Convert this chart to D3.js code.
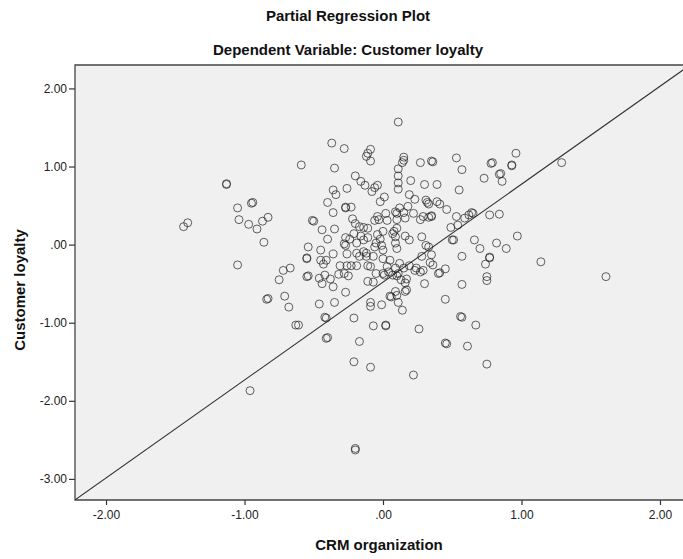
<!DOCTYPE html>
<html>
<head>
<meta charset="utf-8">
<style>
  body { margin: 0; background: #fff; }
  text { font-family: "Liberation Sans", Arial, sans-serif; }
</style>
</head>
<body>
<div id="container"></div>
<script src="https://cdn.jsdelivr.net/npm/d3@7"></script>
<script>

// partial residuals: [CRM organization, Customer loyalty]
var points = [
  [-1.44,0.23],[-1.41,0.28],[-1.13,0.78],[-1.13,0.77],[-1.05,-0.26],[-1.05,0.47],[-1.04,0.32],[-0.97,0.26],
  [-0.95,0.53],[-0.94,0.54],[-0.96,-1.87],[-0.91,0.20],[-0.87,0.30],[-0.83,0.35],[-0.86,0.03],[-0.84,-0.70],
  [-0.83,-0.69],[-0.75,-0.45],[-0.72,-0.33],[-0.67,-0.30],[-0.71,-0.66],[-0.68,-0.80],[-0.63,-1.03],[-0.61,-1.03],
  [-0.59,1.02],[-0.54,-0.03],[-0.55,-0.17],[-0.55,-0.18],[-0.54,-0.40],[-0.55,-0.41],[-0.50,0.30],[-0.51,0.31],
  [-0.37,1.30],[-0.28,1.23],[-0.35,0.98],[-0.20,0.88],[-0.16,0.81],[-0.13,0.76],[-0.26,0.72],[-0.36,0.70],
  [-0.34,0.64],[-0.40,0.54],[-0.27,0.48],[-0.27,0.47],[-0.23,0.48],[-0.36,0.41],[-0.22,0.33],[-0.20,0.27],
  [-0.17,0.23],[-0.14,0.22],[-0.11,0.21],[-0.44,0.19],[-0.35,0.20],[-0.40,0.07],[-0.45,-0.07],[-0.36,-0.12],
  [-0.45,-0.20],[-0.43,-0.25],[-0.41,-0.20],[-0.42,-0.39],[-0.31,-0.27],[-0.26,-0.27],[-0.23,-0.27],[-0.19,-0.27],
  [-0.27,0.09],[-0.24,0.07],[-0.21,0.14],[-0.19,0.02],[-0.16,0.11],[-0.11,0.09],[-0.28,0.01],[-0.27,-0.01],
  [-0.04,0.13],[-0.02,0.07],[-0.05,0.02],[-0.01,-0.01],[0.08,0.17],[0.09,0.10],[0.09,0.02],[0.10,-0.05],
  [-0.12,-0.11],[-0.07,-0.15],[0.00,-0.07],[0.00,-0.18],[0.05,-0.20],[0.03,-0.28],[0.09,-0.30],[0.11,-0.37],
  [0.07,-0.39],[-0.19,-0.11],[-0.14,-0.09],[-0.04,0.76],[-0.06,0.73],[-0.08,0.68],[0.01,0.61],[-0.02,0.55],
  [0.02,0.40],[-0.04,0.36],[-0.03,0.32],[0.09,0.42],
  [0.11,1.57],[-0.09,1.22],[-0.11,1.17],[-0.12,1.13],[-0.09,1.07],[0.15,1.12],[0.15,1.08],[0.14,1.05],
  [0.27,1.05],[0.35,1.07],[0.36,1.06],[0.53,1.11],[0.57,0.96],[0.96,1.17],[0.79,1.05],[0.78,1.04],
  [0.93,1.02],[0.93,1.01],[0.84,0.90],[0.85,0.91],[0.86,0.81],[0.73,0.85],[1.29,1.05],[0.55,0.70],
  [0.11,0.97],[0.11,0.88],[0.11,0.79],[0.11,0.71],[0.20,0.82],[0.30,0.77],[0.39,0.77],[0.19,0.64],
  [0.23,0.58],[0.31,0.57],[0.33,0.52],[0.32,0.54],[0.39,0.55],[0.41,0.52],[0.46,0.45],
  [0.10,0.40],[0.12,0.47],[0.15,0.41],[0.18,0.49],[0.16,0.34],[0.10,0.32],[0.22,0.40],[0.27,0.32],
  [0.29,0.36],[0.33,0.35],[0.35,0.37],[0.35,0.36],
  [0.53,0.36],[0.59,0.34],[0.62,0.38],[0.64,0.41],[0.65,0.40],[0.77,0.38],[0.84,0.39],[0.49,0.22],
  [0.54,0.25],[0.50,0.06],[0.51,0.06],[0.66,0.06],[0.70,-0.05],[0.82,0.02],[0.89,-0.05],[0.97,0.11],
  [1.14,-0.22],[0.57,-0.15],[0.74,-0.25],[0.75,-0.41],[0.75,-0.46],[0.77,-0.16],[0.77,-0.17],[0.57,-0.51],
  [0.30,-0.50],[0.40,-0.37],[0.41,-0.36],[0.45,-0.31],
  [0.14,-0.84],[0.26,-1.08],[0.22,-1.67],[0.45,-0.70],[0.56,-0.92],[0.57,-0.93],[0.67,-1.03],[0.45,-1.26],
  [0.46,-1.27],[0.61,-1.30],[0.75,-1.53],[1.61,-0.41],[-0.20,-2.61],[-0.20,-2.63],
  [-0.46,-0.76],[-0.41,-0.94],[-0.42,-0.93],[-0.40,-1.19],[-0.41,-1.20],[-0.35,-0.74],[-0.36,-0.54],[-0.27,-0.61],
  [-0.21,-0.94],[-0.17,-1.24],[-0.21,-1.50],[-0.09,-1.57],[-0.09,-0.74],[-0.09,-0.79],[-0.01,-0.77],[-0.07,-1.04],
  [0.02,-1.03],[0.02,-1.04],[-0.11,-0.47],[-0.07,-0.48],
  [-0.06,0.31],[0.00,0.17],[0.03,0.31],[0.07,0.14],[0.10,0.21],[0.16,0.11],[0.19,0.06],[0.28,0.10],
  [0.31,-0.01],[0.33,-0.03],[0.35,-0.13],[0.28,-0.15],[0.34,-0.23],[0.36,-0.26],[0.24,-0.30],[0.27,-0.35],
  [0.12,-0.24],[0.15,-0.30],[-0.05,-0.37],[0.10,-0.40],[0.13,-0.45],[0.16,-0.49],[0.09,-0.60],[0.10,-0.65],
  [0.16,-0.60],[-0.17,-0.15],[-0.12,-0.15],[-0.06,-0.03],[-0.09,-0.28],[-0.14,0.06],
  [0.05,-0.66],[0.11,-0.74],[0.17,-0.44],[0.17,-0.58],[0.00,-0.37],[0.19,-0.27],[0.23,-0.33],[0.29,-0.33],
  [-0.44,-0.50],[-0.46,-0.43],[-0.38,-0.44],[-0.32,-0.38],[-0.28,-0.37],[-0.25,-0.40],[-0.11,-0.27],[-0.26,-0.12],
  [0.04,-0.35],[0.06,-0.67],[0.01,-0.39]
];

// fit line shown by SPSS
var fitSlope = 1.254;
var fitIntercept = -0.48;

var xTicks = [-2, -1, 0, 1, 2];
var xTickLabels = ["-2.00", "-1.00", ".00", "1.00", "2.00"];
var yTicks = [2, 1, 0, -1, -2, -3];
var yTickLabels = ["2.00", "1.00", ".00", "-1.00", "-2.00", "-3.00"];

var W = 683, H = 559;
var plot = {left: 75, right: 691, top: 65, bottom: 500};

var x = d3.scaleLinear().domain([-2.224, 2.224]).range([plot.left, plot.right]);
var y = d3.scaleLinear().domain([-3.27, 2.30]).range([plot.bottom, plot.top]);

var svg = d3.select("#container")
  .append("svg")
    .attr("width", W)
    .attr("height", H);

svg.append("defs").append("clipPath")
    .attr("id", "clip")
  .append("rect")
    .attr("x", plot.left)
    .attr("y", plot.top)
    .attr("width", plot.right - plot.left)
    .attr("height", plot.bottom - plot.top);

// plot background
svg.append("rect")
  .attr("x", plot.left)
  .attr("y", plot.top)
  .attr("width", plot.right - plot.left)
  .attr("height", plot.bottom - plot.top)
  .style("fill", "#f0f0f0");

// titles
svg.append("text")
  .attr("x", 348).attr("y", 21)
  .attr("text-anchor", "middle")
  .style("font-size", "15px").style("font-weight", "bold").style("fill", "#111")
  .text("Partial Regression Plot");

svg.append("text")
  .attr("x", 348).attr("y", 55)
  .attr("text-anchor", "middle")
  .style("font-size", "15px").style("font-weight", "bold").style("fill", "#111")
  .text("Dependent Variable: Customer loyalty");

// axes
var yAxis = svg.append("g")
  .attr("transform", "translate(" + plot.left + ",0)")
  .call(d3.axisLeft(y).tickValues(yTicks).tickSize(6).tickPadding(2)
    .tickFormat(function(d, i) { return yTickLabels[i]; }));

var xAxis = svg.append("g")
  .attr("transform", "translate(0," + plot.bottom + ")")
  .call(d3.axisBottom(x).tickValues(xTicks).tickSize(5).tickPadding(5)
    .tickFormat(function(d, i) { return xTickLabels[i]; }));

[xAxis, yAxis].forEach(function(a) {
  a.select(".domain").remove();
  a.selectAll(".tick line").style("stroke", "#333").style("stroke-width", 1.2);
  a.selectAll(".tick text")
    .style("font-family", "'Liberation Sans', Arial, sans-serif")
    .style("font-size", "12px")
    .style("fill", "#222");
});

// frame
svg.append("path")
  .attr("d", "M" + plot.right + "," + plot.top + "H" + plot.left + "V" + plot.bottom + "H" + plot.right)
  .style("fill", "none")
  .style("stroke", "#444")
  .style("stroke-width", 1.3);

// fit line
svg.append("line")
  .attr("clip-path", "url(#clip)")
  .attr("x1", x(-2.224)).attr("y1", y(fitIntercept + fitSlope * -2.224))
  .attr("x2", x(2.224)).attr("y2", y(fitIntercept + fitSlope * 2.224))
  .style("stroke", "#333")
  .style("stroke-width", 1.1);

// points
svg.append("g")
  .selectAll("circle")
  .data(points)
  .enter()
  .append("circle")
    .attr("cx", function(d) { return x(d[0]); })
    .attr("cy", function(d) { return y(d[1]); })
    .attr("r", 4)
    .style("fill", "none")
    .style("stroke", "#222")
    .style("stroke-opacity", 0.7)
    .style("stroke-width", 1);

// axis titles
svg.append("text")
  .attr("x", 379).attr("y", 550)
  .attr("text-anchor", "middle")
  .style("font-size", "15px").style("font-weight", "bold").style("fill", "#111")
  .text("CRM organization");

svg.append("text")
  .attr("transform", "translate(25,290) rotate(-90)")
  .attr("text-anchor", "middle")
  .style("font-size", "15px").style("font-weight", "bold").style("fill", "#111")
  .text("Customer loyalty");

</script>
</body>
</html>
